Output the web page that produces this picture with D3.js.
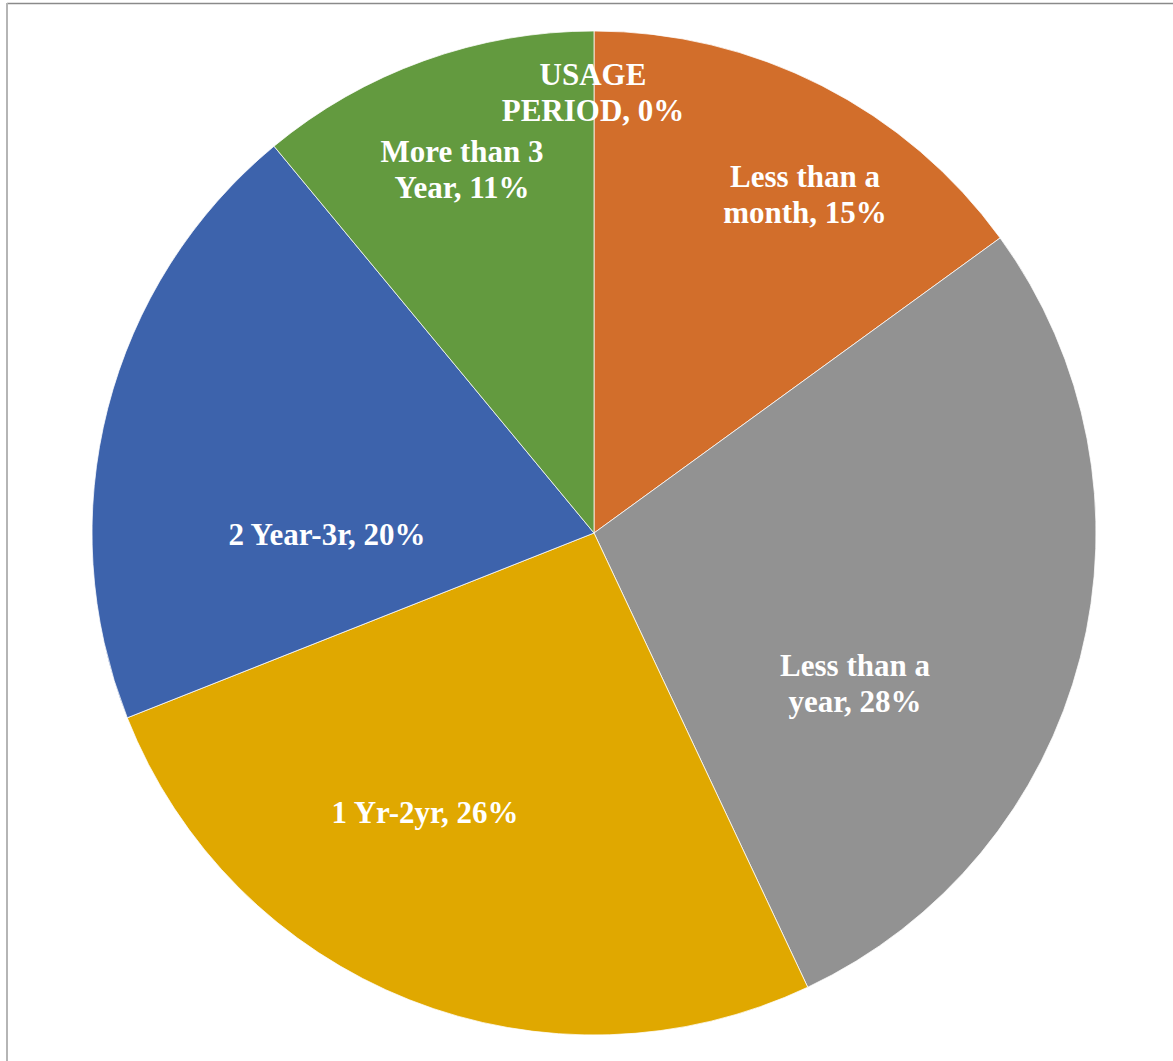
<!DOCTYPE html>
<html>
<head>
<meta charset="utf-8">
<script src="https://cdn.jsdelivr.net/npm/d3@7"></script>
<style>
  html, body { margin: 0; padding: 0; background: #fff; }
  svg { display: block; }
</style>
</head>
<body>
<svg id="chart" width="1173" height="1061"></svg>
<script>
// Usage period shares (percent), clockwise from 12 o'clock
const categories = ["USAGE PERIOD", "Less than a month", "Less than a year", "1 Yr-2yr", "2 Year-3r", "More than 3 Year"];
const values = [0, 15, 28, 26, 20, 11];
// Label text lines per slice
const labelLines = [
  ["USAGE", "PERIOD, 0%"],
  ["Less than a", "month, 15%"],
  ["Less than a", "year, 28%"],
  ["1 Yr-2yr, 26%"],
  ["2 Year-3r, 20%"],
  ["More than 3", "Year, 11%"]
];

// Layout: slice colours and label anchors (first baseline, relative to pie centre)
const colors = ["#5b9bd5", "#D26E2B", "#929292", "#E0A800", "#3D63AC", "#639A3F"];
const labelAnchor = [[-1, -448], [211, -346], [261, 143], [-169, 290], [-267, 12], [-132, -371]];

const W = 1173, H = 1061;
const cx = 594, cy = 533, R = 502;
const svg = d3.select("#chart");

// Chart frame
svg.append("line").attr("x1", 7).attr("x2", W).attr("y1", 3.5).attr("y2", 3.5)
  .attr("stroke", "#8a8a8a").attr("stroke-width", 1.5);
svg.append("line").attr("x1", 7).attr("x2", 7).attr("y1", 3).attr("y2", H)
  .attr("stroke", "#b5b5b5").attr("stroke-width", 2);

const pie = d3.pie().sort(null).value(d => d);
const arcs = pie(values);
const arc = d3.arc().innerRadius(0).outerRadius(R);

const g = svg.append("g").attr("transform", `translate(${cx},${cy})`);

g.selectAll("path.slice")
  .data(arcs)
  .join("path")
  .attr("class", "slice")
  .attr("d", arc)
  .attr("fill", (d, i) => colors[i])
  .attr("stroke", "#ffffff")
  .attr("stroke-width", 0.75);

const labels = g.selectAll("text.lbl")
  .data(arcs)
  .join("text")
  .attr("class", "lbl")
  .attr("text-anchor", "middle")
  .attr("font-family", "'Liberation Serif', 'Times New Roman', serif")
  .attr("font-weight", "bold")
  .attr("font-size", 31)
  .attr("fill", "#ffffff")
  .attr("transform", (d, i) => `translate(${labelAnchor[i][0]},${labelAnchor[i][1]})`);

labels.selectAll("tspan")
  .data((d, i) => labelLines[i])
  .join("tspan")
  .attr("x", 0)
  .attr("dy", (d, j) => j === 0 ? 0 : 36)
  .text(d => d);
</script>
</body>
</html>
